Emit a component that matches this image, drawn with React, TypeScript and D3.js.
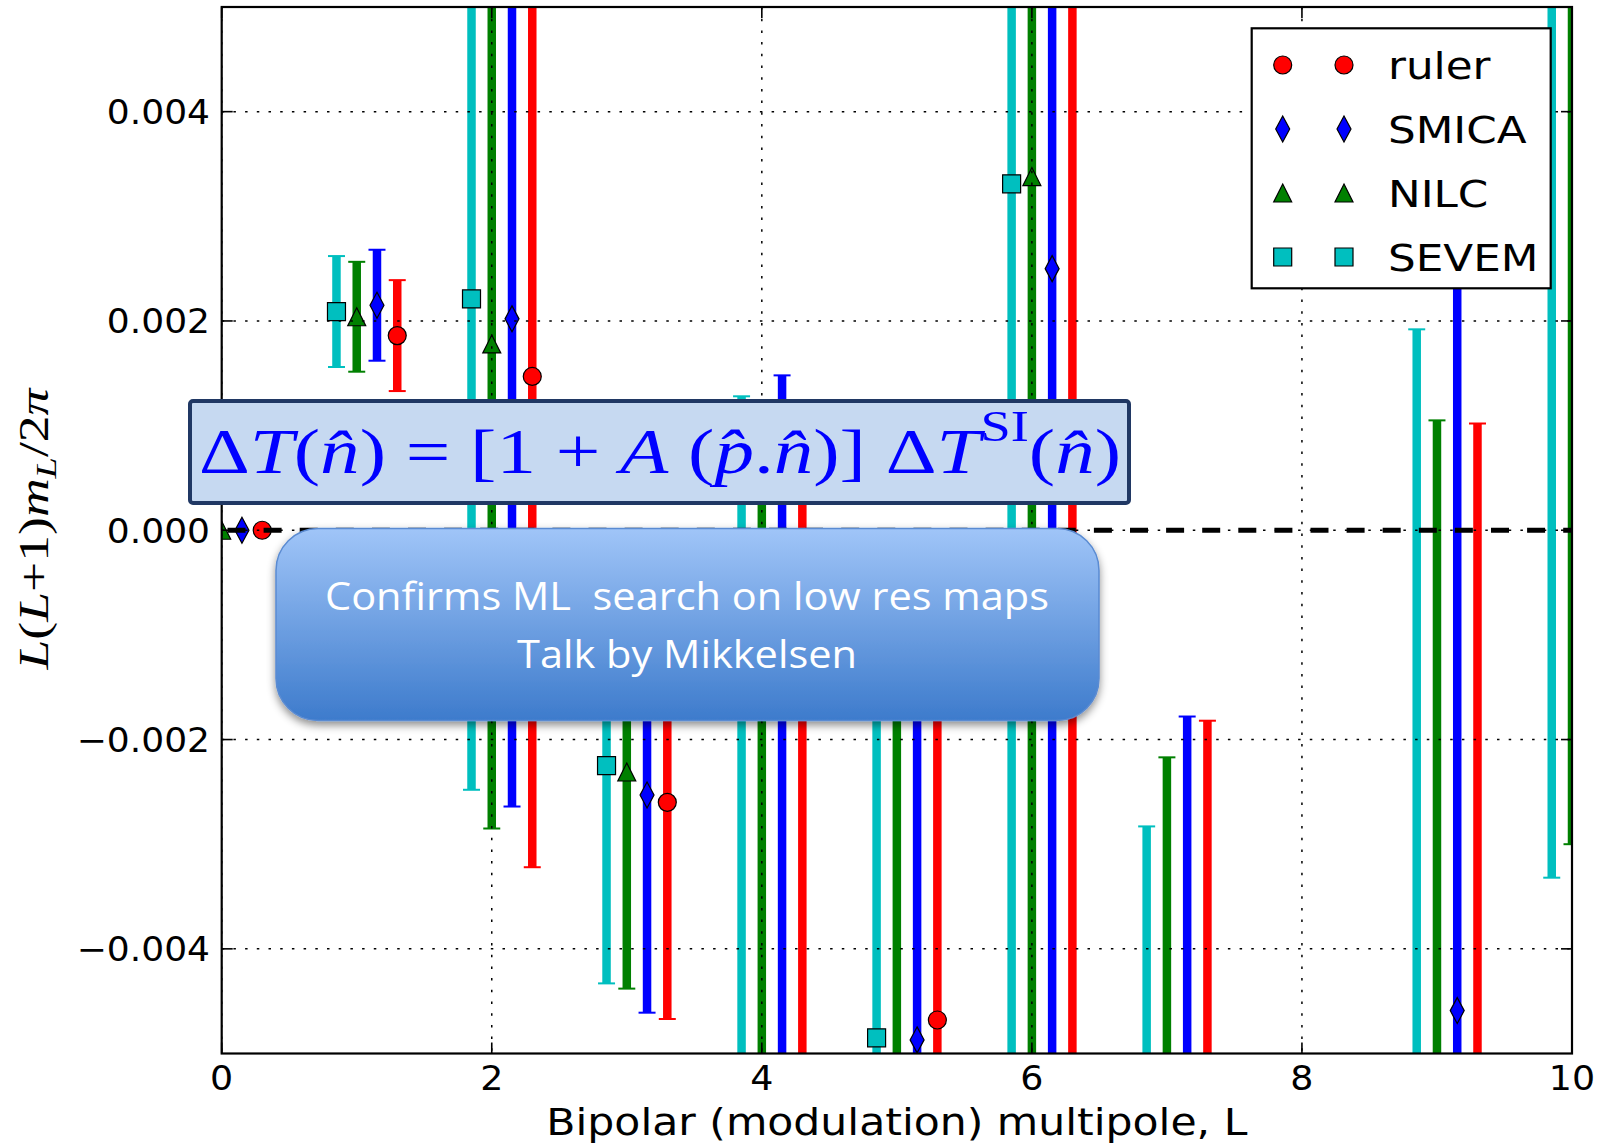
import React from "react";
import * as d3 from "d3";

// bipolar multipole L
const multipoles = [0, 1, 2, 3, 4, 5, 6, 7, 8, 9, 10];

// values and symmetric errors, in units of 1e-3 (null = not plotted / off chart)
const rulerValues = [0, 1.86, 1.47, -2.6, -5.8, -4.68, 0.9, -5.4, null, -5.9, null];
const rulerErrors = [0, 0.53, 4.69, 2.07, 7.0, 4.1, 8.6, 3.58, null, 6.92, null];

const smicaValues = [0, 2.15, 2.02, -2.53, -5.5, -4.87, 2.5, -5.3, null, -4.59, null];
const smicaErrors = [0, 0.53, 4.66, 2.08, 6.98, 4.1, 8.6, 3.52, null, 7.1, null];

const nilcValues = [0, 2.04, 1.78, -2.31, -5.7, -5.2, 3.38, -5.6, null, -5.8, 6.5];
const nilcErrors = [0, 0.525, 4.63, 2.07, 6.9, 4.2, 8.6, 3.43, null, 6.85, 9.5];

const sevemValues = [0, 2.09, 2.21, -2.25, -5.6, -4.85, 3.31, -6.0, null, -5.5, 6.0];
const sevemErrors = [0, 0.53, 4.69, 2.08, 6.88, 4.0, 8.6, 3.17, null, 7.42, 9.32];

const seriesNames = ["ruler", "SMICA", "NILC", "SEVEM"];
const seriesColors = ["#ff0000", "#0000ff", "#008000", "#00bfbf"];
const seriesMarkers = ["circle", "diamond", "triangle", "square"];
const seriesOffsets = [0.3, 0.15, 0, -0.15];

const series = [
  { values: rulerValues, errors: rulerErrors },
  { values: smicaValues, errors: smicaErrors },
  { values: nilcValues, errors: nilcErrors },
  { values: sevemValues, errors: sevemErrors },
].map((s, i) => ({
  ...s,
  name: seriesNames[i],
  color: seriesColors[i],
  marker: seriesMarkers[i],
  offset: seriesOffsets[i],
}));

const W = 1603;
const H = 1145;
const plot = { left: 221.7, right: 1572, top: 7, bottom: 1053.5 };

const x = d3.scaleLinear().domain([0, 10]).range([plot.left, plot.right]);
const y = d3.scaleLinear().domain([-5, 5]).range([plot.bottom, plot.top]);
const fmt = d3.format(".3f");

function markerPath(kind: string): string {
  const p = d3.path();
  if (kind === "circle") {
    p.arc(0, 0, 9, 0, 2 * Math.PI);
  } else if (kind === "square") {
    p.rect(-9, -9, 18, 18);
  } else if (kind === "diamond") {
    p.moveTo(0, -13);
    p.lineTo(7, 0);
    p.lineTo(0, 13);
    p.lineTo(-7, 0);
    p.closePath();
  } else {
    p.moveTo(0, -9);
    p.lineTo(9, 9);
    p.lineTo(-9, 9);
    p.closePath();
  }
  return p.toString();
}

const tickFont = "'DejaVu Sans', sans-serif";
const mathFont = "'Liberation Serif', 'DejaVu Serif', serif";

const App = () => {
  const xTicks = x.ticks(5);
  const yTicks = y.ticks(5);

  return (
    <svg
      width={W}
      height={H}
      style={{ position: "absolute", left: 0, top: 0, background: "#fff" }}
      xmlns="http://www.w3.org/2000/svg"
    >
      <defs>
        <clipPath id="plotClip">
          <rect x={plot.left} y={plot.top} width={plot.right - plot.left} height={plot.bottom - plot.top} />
        </clipPath>
        <linearGradient id="calloutFill" x1="0" y1="0" x2="0" y2="1">
          <stop offset="0" stopColor="#a0c5f8" />
          <stop offset="1" stopColor="#3d7bcc" />
        </linearGradient>
        <filter id="shadow" x="-10%" y="-10%" width="120%" height="130%">
          <feDropShadow dx="0" dy="4" stdDeviation="4" floodColor="#000" floodOpacity="0.45" />
        </filter>
      </defs>

      <rect x={plot.left} y={plot.top} width={plot.right - plot.left} height={plot.bottom - plot.top} fill="#fff" />

      {/* error bars and markers */}
      <g clipPath="url(#plotClip)">
        {series.map((s) => (
          <g key={s.name}>
            {multipoles.map((L, i) => {
              const v = s.values[i];
              const e = s.errors[i];
              if (v == null || e == null) return null;
              const cx = x(L + s.offset);
              const yTop = y(v + e);
              const yBot = y(v - e);
              return (
                <g key={i}>
                  {e > 0 && (
                    <>
                      <line x1={cx} x2={cx} y1={yTop} y2={yBot} stroke={s.color} strokeWidth={8.5} />
                      <line x1={cx - 8.5} x2={cx + 8.5} y1={yTop} y2={yTop} stroke={s.color} strokeWidth={2} />
                      <line x1={cx - 8.5} x2={cx + 8.5} y1={yBot} y2={yBot} stroke={s.color} strokeWidth={2} />
                    </>
                  )}
                  <path
                    d={markerPath(s.marker)}
                    transform={`translate(${cx},${y(v)})`}
                    fill={s.color}
                    stroke="#000"
                    strokeWidth={1.2}
                  />
                </g>
              );
            })}
          </g>
        ))}

        {/* grid */}
        {xTicks.map((t) => (
          <line key={"gx" + t} x1={x(t)} x2={x(t)} y1={plot.top} y2={plot.bottom}
            stroke="#000" strokeWidth={1.5} strokeDasharray="2.5 9.2" />
        ))}
        {yTicks.map((t) => (
          <line key={"gy" + t} x1={plot.left} x2={plot.right} y1={y(t)} y2={y(t)}
            stroke="#000" strokeWidth={1.5} strokeDasharray="2.5 9.2" />
        ))}

        {/* zero reference line */}
        <line x1={plot.left} x2={plot.right} y1={y(0)} y2={y(0)} stroke="#000" strokeWidth={5}
          strokeDasharray="18 18.1" strokeDashoffset={30.3} />
      </g>

      {/* frame */}
      <rect x={plot.left} y={plot.top} width={plot.right - plot.left} height={plot.bottom - plot.top}
        fill="none" stroke="#000" strokeWidth={2.2} />

      {/* ticks */}
      {xTicks.map((t) => (
        <g key={"tx" + t}>
          <line x1={x(t)} x2={x(t)} y1={plot.bottom} y2={plot.bottom - 11} stroke="#000" strokeWidth={1.6} />
          <line x1={x(t)} x2={x(t)} y1={plot.top} y2={plot.top + 11} stroke="#000" strokeWidth={1.6} />
          <text transform={`translate(${x(t)},1090) scale(1.07,1)`} textAnchor="middle"
            fontFamily={tickFont} fontSize={34} fill="#000">{t}</text>
        </g>
      ))}
      {yTicks.map((t) => (
        <g key={"ty" + t}>
          <line x1={plot.left} x2={plot.left + 11} y1={y(t)} y2={y(t)} stroke="#000" strokeWidth={1.6} />
          <line x1={plot.right} x2={plot.right - 11} y1={y(t)} y2={y(t)} stroke="#000" strokeWidth={1.6} />
          <text transform={`translate(210,${y(t) + 12.4}) scale(1.06,1)`} textAnchor="end"
            fontFamily={tickFont} fontSize={34} fill="#000">{fmt(t * 1e-3)}</text>
        </g>
      ))}

      {/* axis labels */}
      <text transform={`translate(${(plot.left + plot.right) / 2},1135) scale(1.12,1)`} textAnchor="middle"
        fontFamily={tickFont} fontSize={38} fill="#000">Bipolar (modulation) multipole, L</text>
      <text transform="translate(48,529) rotate(-90)" textAnchor="middle" fontFamily={mathFont}
        fontSize={42} fill="#000" textLength={281} lengthAdjust="spacingAndGlyphs">
        <tspan fontStyle="italic">L</tspan>(<tspan fontStyle="italic">L</tspan>+1)<tspan fontStyle="italic">m</tspan>
        <tspan fontStyle="italic" fontSize={30} dy={8}>L</tspan><tspan dy={-8}>/2</tspan><tspan fontStyle="italic">π</tspan>
      </text>

      {/* legend */}
      <rect x={1251.7} y={28.3} width={299} height={260} fill="#fff" stroke="#000" strokeWidth={2.2} />
      {series.map((s, i) => {
        const ry = 65 + i * 64;
        return (
          <g key={"lg" + s.name}>
            {[1282.7, 1344].map((mx) => (
              <path key={mx} d={markerPath(s.marker)} transform={`translate(${mx},${ry})`}
                fill={s.color} stroke="#000" strokeWidth={1.2} />
            ))}
            <text transform={`translate(1388,${ry + 13.5}) scale(1.18,1)`} fontFamily={tickFont}
              fontSize={37} fill="#000">{s.name}</text>
          </g>
        );
      })}

      {/* formula box */}
      <rect x={190} y={401} width={939} height={102} fill="#c6d9f1" stroke="#203864" strokeWidth={4} rx={3} />
      <text x={199} y={473} fontFamily={mathFont} fontSize={64} fill="#0000ff"
        textLength={922} lengthAdjust="spacingAndGlyphs">
        <tspan>Δ</tspan><tspan fontStyle="italic">T</tspan><tspan>(</tspan><tspan fontStyle="italic">n̂</tspan>
        <tspan>) = [1 + </tspan><tspan fontStyle="italic">A</tspan><tspan> (</tspan>
        <tspan fontStyle="italic">p̂</tspan><tspan>.</tspan><tspan fontStyle="italic">n̂</tspan>
        <tspan>)] Δ</tspan><tspan fontStyle="italic">T</tspan>
        <tspan fontSize={44} dy={-32}>SI</tspan><tspan dy={32}>(</tspan>
        <tspan fontStyle="italic">n̂</tspan><tspan>)</tspan>
      </text>

      {/* callout */}
      <rect x={276} y={528.5} width={823} height={192} rx={42} fill="url(#calloutFill)"
        stroke="#5a8bd2" strokeWidth={1.5} filter="url(#shadow)" />
      <text x={687} y={610} textAnchor="middle" fontFamily="'Open Sans', sans-serif" fontSize={39}
        fill="#fff" textLength={724} lengthAdjust="spacingAndGlyphs" style={{ whiteSpace: "pre" }}>
        {"Confirms ML  search on low res maps"}
      </text>
      <text x={687} y={668} textAnchor="middle" fontFamily="'Open Sans', sans-serif" fontSize={39}
        fill="#fff" textLength={340} lengthAdjust="spacingAndGlyphs">Talk by Mikkelsen</text>
    </svg>
  );
};

export default App;
